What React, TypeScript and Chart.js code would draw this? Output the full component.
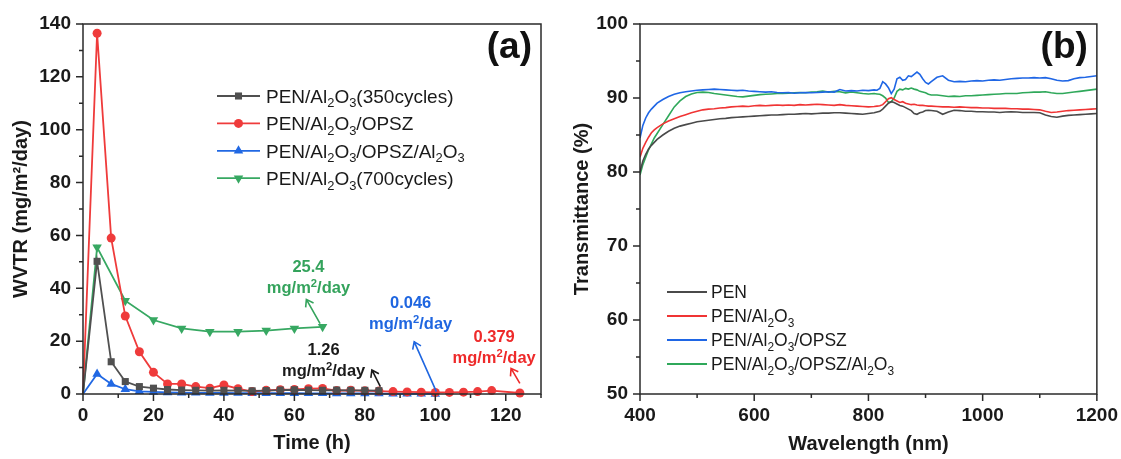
import React, { useEffect, useRef } from "react";
import { Chart, registerables } from "chart.js";
Chart.register(...registerables);

const FONT = "'Liberation Sans', Arial, Helvetica, sans-serif";
const INK = "#1a1a1a";
const AXIS = "#2a2a2a";

// ---------------- Panel (a): WVTR vs time ----------------
const timeH = [0, 4, 8, 12, 16, 20, 24, 28, 32, 36, 40, 44, 48, 52, 56, 60, 64, 68, 72, 76, 80, 84, 88, 92, 96, 100, 104, 108, 112, 116, 120, 124];
const wvtr350 = [0, 50.2, 12.2, 4.7, 2.8, 2.2, 1.7, 1.5, 1.4, 1.3, 1.4, 1.3, 1.2, 1.3, 1.5, 1.6, 1.5, 1.4, 1.5, 1.4, 1.4, 1.26];
const wvtrOPSZ = [0, 136.5, 59, 29.5, 16, 8.2, 3.8, 3.8, 2.8, 2.2, 3.4, 2.0, 0.9, 1.4, 1.6, 1.7, 2.0, 2.1, 1.3, 1.4, 1.2, 1.1, 0.9, 0.8, 0.7, 0.6, 0.6, 0.7, 0.9, 1.3, null, 0.379];
const wvtrOPSZAl = [0, 7.6, 3.8, 1.8, 1.0, 0.8, 0.6, 0.5, 0.45, 0.4, 0.4, 0.35, 0.3, 0.3, 0.3, 0.3, 0.25, 0.25, 0.2, 0.2, 0.2, 0.15, 0.1, 0.1, 0.08, 0.046];
const time700 = [0, 4, 12, 20, 28, 36, 44, 52, 60, 68];
const wvtr700 = [0, 55.5, 35.3, 28.0, 24.8, 23.6, 23.6, 24.0, 24.8, 25.4];

const namesA = ["PEN/Al_{2}O_{3}(350cycles)", "PEN/Al_{2}O_{3}/OPSZ", "PEN/Al_{2}O_{3}/OPSZ/Al_{2}O_{3}", "PEN/Al_{2}O_{3}(700cycles)"];
const colorsA = ["#505050", "#ef3b3b", "#2168e3", "#37a862"];
const markersA = ["rect", "circle", "triangle", "triangle"];
const markerRotA = [0, 0, 0, 180];
const markerSizeA = [5, 4.5, 5.5, 5.5];

const noteValues = ["25.4", "1.26", "0.046", "0.379"];
const noteUnit = "mg/m^{2}/day";
const noteColors = ["#34a35c", "#1a1a1a", "#1f66e0", "#ee2a2a"];
const noteTextAt = [[64, 48.4], [68.3, 16.9], [93, 34.9], [116.7, 21.9]];
const noteArrowFrom = [[67.3, 26.6], [84.4, 2.8], [100.3, 0.9], [124, 4.0]];
const noteArrowTo = [[63.4, 35.8], [82, 9.1], [94, 19.8], [121.5, 9.7]];

// ---------------- Panel (b): transmittance spectra ----------------
const wavelengthNm = [
  400, 405, 410, 415, 420, 425, 430,
  440, 450, 460, 470, 480, 490, 500, 510, 520, 530,
  540, 550, 560, 570, 580, 590, 600, 610, 620, 630,
  640, 650, 660, 670, 680, 690, 700, 710, 720, 730,
  740, 750, 760, 770, 780, 790, 800, 810,
  815, 820, 825, 830, 835, 840, 845, 850, 855, 860, 865, 870, 875, 880, 885, 890, 895, 900, 905,
  910, 920, 930, 940, 950, 960, 970, 980, 990, 1000,
  1010, 1020, 1030, 1040, 1050, 1060, 1070, 1080, 1090, 1100,
  1110, 1120, 1130, 1140, 1150, 1160, 1170, 1180, 1190, 1200,
];
const transPEN = [
  80.0, 81.5, 82.4, 83.1, 83.6, 84.0, 84.4,
  85.0, 85.5, 85.9, 86.2, 86.4, 86.6, 86.8, 86.9, 87.0, 87.1,
  87.2, 87.25, 87.35, 87.4, 87.45, 87.5, 87.55, 87.6, 87.65, 87.7,
  87.7, 87.75, 87.8, 87.8, 87.85, 87.9, 87.85, 87.9, 87.95, 87.95,
  88.0, 88.0, 87.95, 87.9, 87.85, 87.8, 87.9, 88.0,
  88.1, 88.2, 88.5, 88.9, 89.3, 89.5, 89.4, 89.2, 89.0, 88.9, 88.7, 88.5, 88.3, 87.9, 87.8, 88.0, 88.1, 88.3, 88.35,
  88.3, 88.2, 87.8, 88.1, 88.35, 88.3, 88.2, 88.2, 88.15, 88.15,
  88.1, 88.1, 88.05, 88.1, 88.15, 88.1, 88.05, 88.05, 88.05, 88.0,
  87.7, 87.5, 87.4, 87.55, 87.65, 87.7, 87.75, 87.8, 87.85, 87.9,
];
const transAl2O3 = [
  82.0, 83.2, 84.0, 84.7, 85.3, 85.7, 86.0,
  86.5, 86.9, 87.2, 87.5, 87.75, 88.0, 88.2, 88.4, 88.5, 88.55,
  88.65, 88.7, 88.8, 88.85, 88.9, 88.85, 88.95, 89.0, 88.95, 89.0,
  89.05, 89.0, 89.05, 89.0, 89.1, 89.05, 89.1, 89.15, 89.1, 89.05,
  89.0, 89.1, 89.0, 88.95, 88.9, 88.85, 88.8, 88.85,
  88.9, 88.95, 89.1, 89.5, 89.9, 90.05, 89.8, 89.6, 89.4, 89.5, 89.3, 89.2, 89.1, 89.15, 89.05, 89.0, 89.0, 88.95, 88.9,
  88.9, 88.85, 88.8, 88.8, 88.75, 88.8, 88.75, 88.7, 88.7, 88.65,
  88.65, 88.6, 88.6, 88.6, 88.55, 88.55, 88.5, 88.5, 88.45, 88.4,
  88.2, 88.05, 88.1, 88.2, 88.3, 88.35, 88.4, 88.45, 88.5, 88.55,
];
const transOPSZ = [
  84.6, 86.3, 87.3, 88.0, 88.5, 88.9, 89.3,
  89.8, 90.2, 90.5, 90.7, 90.85, 90.95, 91.05, 91.1, 91.15, 91.2,
  91.15, 91.1, 91.05, 91.0, 91.05, 90.95, 90.9, 90.85, 90.8, 90.85,
  90.75, 90.7, 90.75, 90.65, 90.7, 90.75, 90.7, 90.75, 90.8, 90.85,
  90.8, 91.15, 90.95, 91.0, 90.95, 91.05, 91.0, 91.1,
  91.05, 91.3, 92.2, 91.9, 91.4, 90.6, 91.2, 92.6, 92.8, 92.4, 92.5, 93.0, 92.9, 93.2, 93.5, 93.2, 92.6, 92.1, 91.9,
  92.2, 92.8, 93.0, 92.4, 92.2, 92.25, 92.2, 92.3, 92.35, 92.3,
  92.4, 92.45, 92.4, 92.5, 92.6, 92.65, 92.7, 92.7, 92.75, 92.7,
  92.75, 92.6, 92.4, 92.3, 92.35, 92.6, 92.75, 92.8, 92.9, 93.0,
];
const transOPSZAl = [
  79.6, 81.0, 82.0, 83.0, 83.8, 84.6, 85.2,
  86.4, 87.6, 88.8, 89.6, 90.2, 90.55, 90.75, 90.8, 90.75, 90.6,
  90.5, 90.4, 90.3, 90.2, 90.15, 90.25, 90.35, 90.45, 90.5, 90.55,
  90.6, 90.6, 90.65, 90.7, 90.75, 90.7, 90.8, 90.85, 90.95, 90.8,
  90.9, 90.85, 90.7, 90.8, 90.7, 90.6, 90.55, 90.6,
  90.55, 90.5, 90.3, 90.0, 89.4, 89.5, 90.0, 90.9, 91.2, 91.1, 91.3, 91.2, 91.35, 91.2, 91.1, 90.9, 90.8, 90.7, 90.5,
  90.4, 90.4, 90.3, 90.2, 90.25, 90.2, 90.3, 90.3, 90.35, 90.4,
  90.45, 90.5, 90.55, 90.6, 90.6, 90.6, 90.7, 90.75, 90.8, 90.8,
  90.85, 90.7, 90.6, 90.6, 90.7, 90.8, 90.9, 91.0, 91.1, 91.2,
];
const namesB = ["PEN", "PEN/Al_{2}O_{3}", "PEN/Al_{2}O_{3}/OPSZ", "PEN/Al_{2}O_{3}/OPSZ/Al_{2}O_{3}"];
const colorsB = ["#4a4a4a", "#f03434", "#1f66e5", "#2fa85a"];

// ---------------- helpers ----------------
type Seg = { t: string; k: "n" | "sub" | "sup" };
function parseRich(s: string): Seg[] {
  const out: Seg[] = [];
  let i = 0;
  let buf = "";
  while (i < s.length) {
    const c = s[i];
    if ((c === "_" || c === "^") && s[i + 1] === "{") {
      if (buf) { out.push({ t: buf, k: "n" }); buf = ""; }
      const end = s.indexOf("}", i);
      out.push({ t: s.slice(i + 2, end), k: c === "_" ? "sub" : "sup" });
      i = end + 1;
    } else { buf += c; i++; }
  }
  if (buf) out.push({ t: buf, k: "n" });
  return out;
}
function drawRich(ctx: CanvasRenderingContext2D, s: string, x: number, y: number, size: number, weight: string, color: string, align: "left" | "center") {
  const segs = parseRich(s);
  const f = (k: string) => `${weight} ${k === "n" ? size : size * 0.68}px ${FONT}`;
  let w = 0;
  for (const sg of segs) { ctx.font = f(sg.k); w += ctx.measureText(sg.t).width; }
  let cx = align === "center" ? x - w / 2 : x;
  ctx.fillStyle = color;
  ctx.textAlign = "left";
  ctx.textBaseline = "alphabetic";
  const base = y + size * 0.36;
  for (const sg of segs) {
    ctx.font = f(sg.k);
    const dy = sg.k === "sub" ? size * 0.24 : sg.k === "sup" ? -size * 0.36 : 0;
    ctx.fillText(sg.t, cx, base + dy);
    cx += ctx.measureText(sg.t).width;
  }
}
function drawMarker(ctx: CanvasRenderingContext2D, style: string, rot: number, x: number, y: number, r: number, color: string) {
  ctx.save();
  ctx.fillStyle = color;
  ctx.beginPath();
  if (style === "rect") {
    const s = r * Math.SQRT1_2;
    ctx.rect(x - s, y - s, 2 * s, 2 * s);
  } else if (style === "circle") {
    ctx.arc(x, y, r, 0, Math.PI * 2);
  } else {
    const a0 = (rot * Math.PI) / 180 - Math.PI / 2;
    for (let k = 0; k < 3; k++) {
      const a = a0 + (k * 2 * Math.PI) / 3;
      const px = x + Math.cos(a) * r;
      const py = y + Math.sin(a) * r;
      if (k === 0) ctx.moveTo(px, py); else ctx.lineTo(px, py);
    }
    ctx.closePath();
  }
  ctx.fill();
  ctx.restore();
}
function drawArrow(ctx: CanvasRenderingContext2D, x1: number, y1: number, x2: number, y2: number, color: string) {
  ctx.save();
  ctx.strokeStyle = color;
  ctx.lineWidth = 1.6;
  ctx.beginPath();
  ctx.moveTo(x1, y1);
  ctx.lineTo(x2, y2);
  const ang = Math.atan2(y2 - y1, x2 - x1);
  const L = 8;
  const h = 0.6;
  ctx.moveTo(x2 - L * Math.cos(ang - h), y2 - L * Math.sin(ang - h));
  ctx.lineTo(x2, y2);
  ctx.lineTo(x2 - L * Math.cos(ang + h), y2 - L * Math.sin(ang + h));
  ctx.stroke();
  ctx.restore();
}
function frameAndTicks(chart: any, xMajor: number, xMinor: number, yMajor: number, yMinor: number) {
  const { ctx, chartArea: a } = chart;
  const xs = chart.scales.x;
  const ys = chart.scales.y;
  ctx.save();
  ctx.strokeStyle = AXIS;
  ctx.lineWidth = 1.5;
  ctx.strokeRect(a.left, a.top, a.right - a.left, a.bottom - a.top);
  const isMajor = (v: number, step: number) => Math.abs(v / step - Math.round(v / step)) < 1e-6;
  ctx.beginPath();
  for (let v = xs.min; v <= xs.max + 1e-9; v += xMinor) {
    const px = xs.getPixelForValue(v);
    ctx.moveTo(px, a.bottom);
    ctx.lineTo(px, a.bottom + (isMajor(v, xMajor) ? 7 : 4));
  }
  for (let v = ys.min; v <= ys.max + 1e-9; v += yMinor) {
    const py = ys.getPixelForValue(v);
    ctx.moveTo(a.left, py);
    ctx.lineTo(a.left - (isMajor(v, yMajor) ? 7 : 4), py);
  }
  ctx.stroke();
  ctx.restore();
}
function panelLetter(chart: any, text: string) {
  const { ctx, chartArea: a } = chart;
  ctx.save();
  ctx.font = `bold 37px ${FONT}`;
  ctx.fillStyle = "#111";
  ctx.textAlign = "right";
  ctx.textBaseline = "middle";
  ctx.fillText(text, a.right - 9, a.top + 24);
  ctx.restore();
}

const tickFont = { family: FONT, size: 19, weight: "bold" as const };
const titleFont = { family: FONT, size: 20, weight: "bold" as const };
const hiddenGrid = { display: true, drawOnChartArea: false, color: "rgba(0,0,0,0)", tickLength: 7 };
const plainLabel = (v: any) => String(v);

function makeChartA(canvas: HTMLCanvasElement) {
  const seriesA = [
    wvtr350.map((v, i) => ({ x: timeH[i], y: v })),
    wvtrOPSZ.map((v, i) => ({ x: timeH[i], y: v })),
    wvtrOPSZAl.map((v, i) => ({ x: timeH[i], y: v })),
    wvtr700.map((v, i) => ({ x: time700[i], y: v })),
  ];
  return new Chart(canvas, {
    type: "line",
    data: {
      datasets: seriesA.map((d, i) => ({
        label: namesA[i],
        data: d,
        borderColor: colorsA[i],
        backgroundColor: colorsA[i],
        borderWidth: 1.8,
        tension: 0,
        spanGaps: true,
        clip: false as any,
        pointStyle: markersA[i] as any,
        pointRotation: markerRotA[i],
        pointRadius: (c: any) => (c.dataIndex === 0 ? 0 : markerSizeA[i]),
        pointBorderWidth: 0,
        pointBackgroundColor: colorsA[i],
        pointBorderColor: colorsA[i],
      })),
    },
    options: {
      responsive: false,
      animation: false,
      devicePixelRatio: 1,
      layout: { padding: { left: 0, right: 19, top: 24, bottom: 0 } },
      plugins: { legend: { display: false }, tooltip: { enabled: false } },
      scales: {
        x: {
          type: "linear",
          min: 0,
          max: 130,
          afterFit: (s: any) => { s.height = 65; },
          grid: hiddenGrid,
          border: { display: false },
          ticks: { stepSize: 20, includeBounds: false, autoSkip: false, maxRotation: 0, padding: 3, color: INK, font: tickFont, callback: plainLabel },
          title: { display: true, text: "Time (h)", color: INK, font: titleFont, padding: { top: 0, bottom: 4 } },
        },
        y: {
          type: "linear",
          min: 0,
          max: 140,
          afterFit: (s: any) => { s.width = 83; },
          grid: hiddenGrid,
          border: { display: false },
          ticks: { stepSize: 20, autoSkip: false, padding: 5, color: INK, font: tickFont, callback: plainLabel },
          title: { display: true, text: "WVTR (mg/m²/day)", color: INK, font: titleFont, padding: { top: 9, bottom: 0 } },
        },
      },
    },
    plugins: [
      {
        id: "decoA",
        afterDraw(chart: any) {
          const { ctx, chartArea: a } = chart;
          const xs = chart.scales.x;
          const ys = chart.scales.y;
          frameAndTicks(chart, 20, 10, 20, 10);
          panelLetter(chart, "(a)");
          // legend
          const lx = a.left + 134;
          const ly = a.top + 72;
          namesA.forEach((n, i) => {
            const y = ly + i * 27.4;
            ctx.save();
            ctx.strokeStyle = colorsA[i];
            ctx.lineWidth = 1.8;
            ctx.beginPath();
            ctx.moveTo(lx, y);
            ctx.lineTo(lx + 43, y);
            ctx.stroke();
            ctx.restore();
            drawMarker(ctx, markersA[i], markerRotA[i], lx + 21.5, y, markerSizeA[i], colorsA[i]);
            drawRich(ctx, n, lx + 49, y, 19, "normal", INK, "left");
          });
          // annotations
          noteValues.forEach((t, i) => {
            const tx = xs.getPixelForValue(noteTextAt[i][0]);
            const ty = ys.getPixelForValue(noteTextAt[i][1]);
            drawRich(ctx, t, tx, ty, 16.5, "bold", noteColors[i], "center");
            drawRich(ctx, noteUnit, tx, ty + 21, 16.5, "bold", noteColors[i], "center");
            drawArrow(
              ctx,
              xs.getPixelForValue(noteArrowFrom[i][0]), ys.getPixelForValue(noteArrowFrom[i][1]),
              xs.getPixelForValue(noteArrowTo[i][0]), ys.getPixelForValue(noteArrowTo[i][1]),
              noteColors[i]
            );
          });
        },
      },
    ],
  } as any);
}

function makeChartB(canvas: HTMLCanvasElement) {
  const seriesB = [transPEN, transAl2O3, transOPSZ, transOPSZAl];
  return new Chart(canvas, {
    type: "line",
    data: {
      datasets: seriesB.map((vals, i) => ({
        label: namesB[i],
        data: vals.map((v, k) => ({ x: wavelengthNm[k], y: v })),
        borderColor: colorsB[i],
        backgroundColor: colorsB[i],
        borderWidth: 1.6,
        tension: 0,
        pointRadius: 0,
        order: i === 2 ? -1 : i,
      })),
    },
    options: {
      responsive: false,
      animation: false,
      devicePixelRatio: 1,
      layout: { padding: { left: 0, right: 22, top: 24, bottom: 0 } },
      plugins: { legend: { display: false }, tooltip: { enabled: false } },
      scales: {
        x: {
          type: "linear",
          min: 400,
          max: 1200,
          afterFit: (s: any) => { s.height = 65; },
          grid: hiddenGrid,
          border: { display: false },
          ticks: { stepSize: 200, autoSkip: false, maxRotation: 0, padding: 3, color: INK, font: tickFont, callback: plainLabel },
          title: { display: true, text: "Wavelength (nm)", color: INK, font: titleFont, padding: { top: 0, bottom: 3 } },
        },
        y: {
          type: "linear",
          min: 50,
          max: 100,
          afterFit: (s: any) => { s.width = 80; },
          grid: hiddenGrid,
          border: { display: false },
          ticks: { stepSize: 10, autoSkip: false, padding: 5, color: INK, font: tickFont, callback: plainLabel },
          title: { display: true, text: "Transmittance (%)", color: INK, font: titleFont, padding: { top: 10, bottom: 0 } },
        },
      },
    },
    plugins: [
      {
        id: "decoB",
        afterDraw(chart: any) {
          const { ctx, chartArea: a } = chart;
          frameAndTicks(chart, 200, 100, 10, 5);
          panelLetter(chart, "(b)");
          const lx = a.left + 27;
          const ly = a.top + 268;
          namesB.forEach((n, i) => {
            const y = ly + i * 24;
            ctx.save();
            ctx.strokeStyle = colorsB[i];
            ctx.lineWidth = 1.8;
            ctx.beginPath();
            ctx.moveTo(lx, y);
            ctx.lineTo(lx + 40, y);
            ctx.stroke();
            ctx.restore();
            drawRich(ctx, n, lx + 44, y, 17.5, "normal", INK, "left");
          });
        },
      },
    ],
  } as any);
}

export default function App() {
  const refA = useRef<HTMLCanvasElement>(null);
  const refB = useRef<HTMLCanvasElement>(null);
  useEffect(() => {
    document.body.style.margin = "0";
    const ca = refA.current ? makeChartA(refA.current) : null;
    const cb = refB.current ? makeChartB(refB.current) : null;
    return () => {
      if (ca) ca.destroy();
      if (cb) cb.destroy();
    };
  }, []);
  return (
    <div style={{ position: "relative", width: 1121, height: 459, background: "#fff", overflow: "hidden" }}>
      <canvas ref={refA} width={560} height={459} style={{ position: "absolute", left: 0, top: 0 }} />
      <canvas ref={refB} width={561} height={459} style={{ position: "absolute", left: 560, top: 0 }} />
    </div>
  );
}
